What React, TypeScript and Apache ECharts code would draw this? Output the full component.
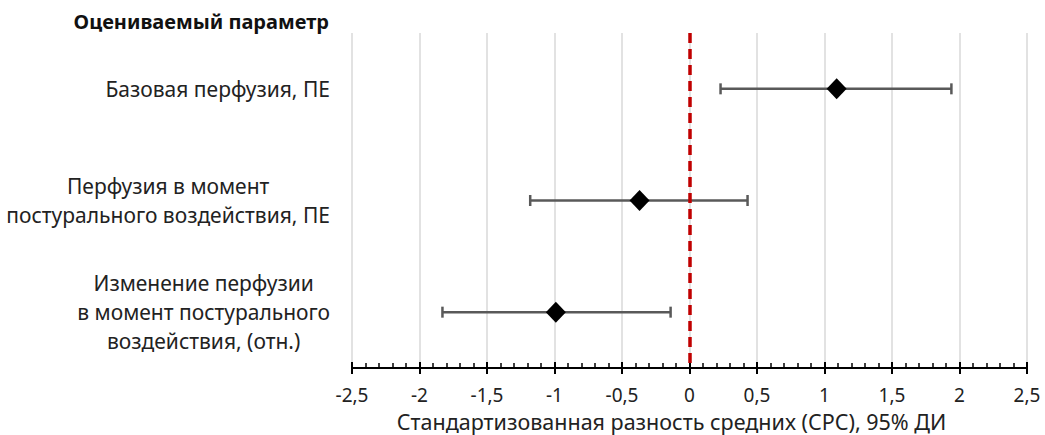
import React, { useEffect, useRef } from "react";
import * as echarts from "echarts";

const categories = [
  "Базовая перфузия, ПЕ",
  "Перфузия в момент\nпостурального воздействия, ПЕ",
  "Изменение перфузии\nв момент постурального\nвоздействия, (отн.)",
];
const smd = [1.09, -0.37, -0.99];
const ciLow = [0.23, -1.18, -1.83];
const ciHigh = [1.94, 0.43, -0.14];
const xMin = -2.5;
const xMax = 2.5;
const xStep = 0.5;

const titleText = "Оцениваемый параметр";
const axisTitle = "Стандартизованная разность средних (СРС), 95% ДИ";

const FONT = "'Noto Sans', 'Open Sans', sans-serif";

export default function App() {
  const ref = useRef<HTMLDivElement>(null);
  useEffect(() => {
    if (!ref.current) return;
    const chart = echarts.init(ref.current, null, { renderer: "svg" });
    const fmt = (v: number) => String(v).replace(".", ",");
    const errData = categories.map((_, i) => [ciLow[i], ciHigh[i], i]);
    const ptData = categories.map((_, i) => [smd[i], i]);
    chart.setOption({
      animation: false,
      textStyle: { fontFamily: FONT },
      title: {
        text: titleText,
        right: 711,
        top: 6,
        textStyle: { fontFamily: FONT, fontSize: 20, fontWeight: "bold", color: "#111" },
      },
      grid: {
        left: 352,
        right: 18,
        top: 33,
        bottom: 67,
        containLabel: false,
        outerBoundsMode: "none",
      },
      xAxis: [
        {
          type: "value",
          min: xMin,
          max: xMax,
          interval: xStep,
          axisLine: { show: true, lineStyle: { color: "#000", width: 2 } },
          axisTick: { show: true, inside: false, length: 6, lineStyle: { color: "#000", width: 2 } },
          splitLine: { show: true, lineStyle: { color: "#d9d9d9", width: 1.5 } },
          axisLabel: {
            formatter: fmt,
            margin: 17,
            fontSize: 19,
            lineHeight: 19,
            color: "#222",
            fontFamily: FONT,
          },
          name: axisTitle,
          nameLocation: "middle",
          nameGap: 43,
          nameMoveOverlap: false,
          nameTextStyle: {
            fontSize: 21.5,
            lineHeight: 21,
            color: "#222",
            fontFamily: FONT,
            padding: [0, 36, 0, 0],
          },
        },
        {
          type: "value",
          min: xMin,
          max: xMax,
          interval: xStep,
          position: "bottom",
          axisLine: { show: false },
          axisTick: { show: true, inside: true, length: 6, lineStyle: { color: "#000", width: 2 } },
          minorTick: { show: true, splitNumber: 5, length: 5, lineStyle: { color: "#000", width: 1.5 } },
          splitLine: { show: false },
          axisLabel: { show: false },
        },
      ],
      yAxis: {
        type: "category",
        data: categories,
        inverse: true,
        axisLine: { show: false },
        axisTick: { show: false },
        splitLine: { show: false },
        axisLabel: {
          margin: 22,
          formatter: (v: string) =>
            v
              .split("\n")
              .map((l) => "{c|" + l + "}")
              .join("\n"),
          rich: {
            c: { align: "center", fontSize: 21, lineHeight: 29, color: "#222", fontFamily: FONT },
          },
        },
      },
      series: [
        {
          type: "custom",
          xAxisIndex: 0,
          data: errData,
          renderItem: (params: any, api: any) => {
            const lo = api.coord([api.value(0), api.value(2)]);
            const hi = api.coord([api.value(1), api.value(2)]);
            const cap = 5.5;
            const style = { stroke: "#595959", lineWidth: 2.5 };
            return {
              type: "group",
              children: [
                { type: "line", shape: { x1: lo[0], y1: lo[1], x2: hi[0], y2: hi[1] }, style },
                { type: "line", shape: { x1: lo[0], y1: lo[1] - cap, x2: lo[0], y2: lo[1] + cap }, style },
                { type: "line", shape: { x1: hi[0], y1: hi[1] - cap, x2: hi[0], y2: hi[1] + cap }, style },
              ],
            };
          },
          markLine: {
            silent: true,
            symbol: "none",
            label: { show: false },
            lineStyle: { color: "#C00000", width: 3.5, type: [10, 6] },
            data: [{ xAxis: 0 }],
          },
          z: 2,
        },
        {
          type: "scatter",
          xAxisIndex: 0,
          data: ptData,
          symbol: "diamond",
          symbolSize: [20, 21],
          itemStyle: { color: "#000", opacity: 1 },
          z: 5,
        },
      ],
    });
    return () => chart.dispose();
  }, []);
  return (
    <div
      ref={ref}
      style={{ position: "fixed", left: 0, top: 0, width: 1045, height: 435, background: "#fff" }}
    />
  );
}
